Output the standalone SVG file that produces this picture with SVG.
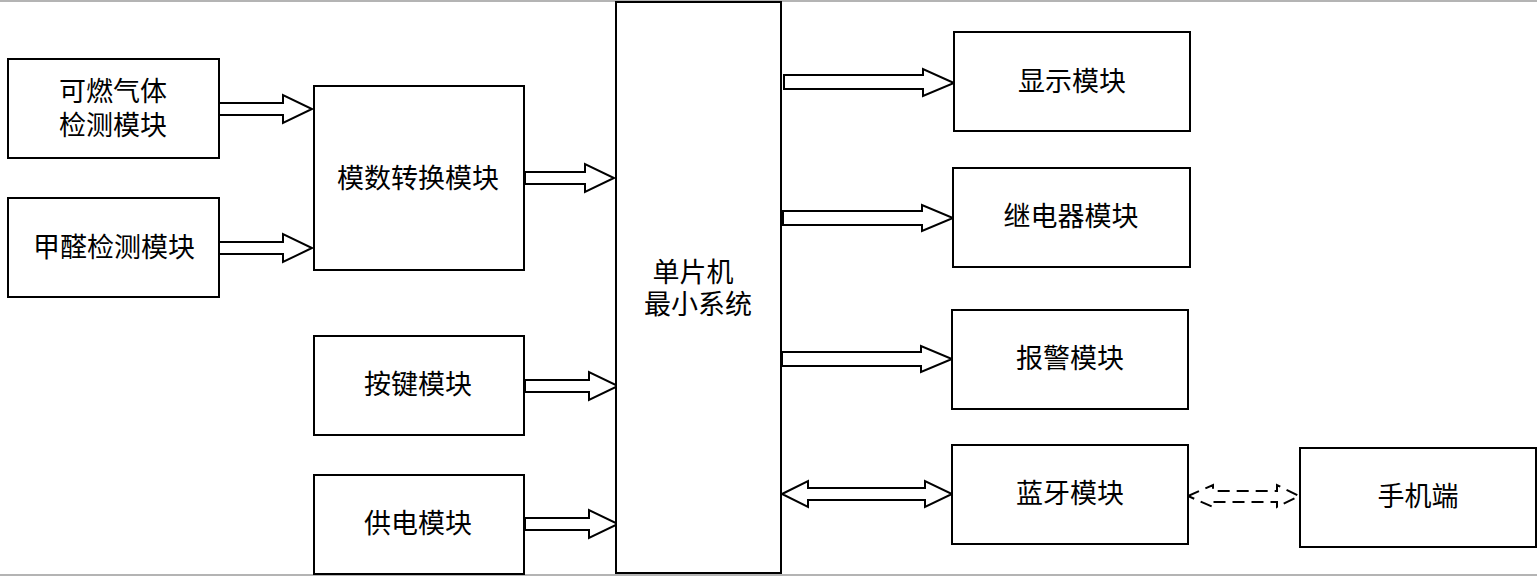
<svg xmlns="http://www.w3.org/2000/svg" width="1537" height="576" viewBox="0 0 1537 576">
<style>
.box{fill:#fff;stroke:#000;stroke-width:2}
.t{font-family:"Noto Sans CJK SC","Liberation Sans",sans-serif;font-size:27px;fill:#000;text-anchor:middle;dominant-baseline:central}
.ar{fill:#fff;stroke:#000;stroke-width:2;stroke-linejoin:miter}
.da{fill:none;stroke:#000;stroke-width:2;stroke-dasharray:12,7}
</style>
<rect x="0" y="0" width="1537" height="576" fill="#fff"/>
<line x1="0" y1="1" x2="1537" y2="1" stroke="#b4b4b4" stroke-width="2"/>
<line x1="0" y1="575" x2="1537" y2="575" stroke="#b4b4b4" stroke-width="2"/>
<g id="connectors">
<polygon class="ar" points="219,103 283,103 283,95 312,109 283,123 283,115 219,115"/>
<polygon class="ar" points="219,242 283,242 283,234 312,248 283,262 283,254 219,254"/>
<polygon class="ar" points="525,172 585,172 585,164 614,178 585,192 585,184 525,184"/>
<polygon class="ar" points="525,380 589,380 589,372 618,386 589,400 589,392 525,392"/>
<polygon class="ar" points="525,518 589,518 589,510 618,524 589,538 589,530 525,530"/>
<polygon class="ar" points="784,75 923,75 923,69 954,83 923,96 923,89 784,89"/>
<polygon class="ar" points="783,211 922,211 922,205 953,218 922,231 922,225 783,225"/>
<polygon class="ar" points="782,352 921,352 921,346 952,359 921,372 921,366 782,366"/>
<polygon class="ar" points="782,494 808,481 808,488 925,488 925,481 952,494 925,507 925,500 808,500 808,507"/>
<polygon class="da" points="1188,496 1213,485 1213,491 1277,491 1277,485 1299,496 1277,507 1277,502 1213,502 1213,507"/>
</g>
<g id="n1"><rect class="box" x="8" y="59" width="211" height="99"/><text class="t" x="113" y="89">可燃气体</text><text class="t" x="113" y="123">检测模块</text></g>
<g id="n2"><rect class="box" x="8" y="198" width="211" height="99"/><text class="t" x="114" y="245">甲醛检测模块</text></g>
<g id="n3"><rect class="box" x="314" y="86" width="210" height="184"/><text class="t" x="418" y="176">模数转换模块</text></g>
<g id="n4"><rect class="box" x="314" y="336" width="210" height="99"/><text class="t" x="418" y="382">按键模块</text></g>
<g id="n5"><rect class="box" x="314" y="475" width="210" height="99"/><text class="t" x="418" y="521">供电模块</text></g>
<g id="mcu"><rect class="box" x="616" y="2" width="165" height="571"/><text class="t" x="693" y="270">单片机</text><text class="t" x="698" y="302">最小系统</text></g>
<g id="n6"><rect class="box" x="954" y="32" width="236" height="99"/><text class="t" x="1072" y="79">显示模块</text></g>
<g id="n7"><rect class="box" x="953" y="168" width="237" height="99"/><text class="t" x="1071" y="214">继电器模块</text></g>
<g id="n8"><rect class="box" x="952" y="310" width="236" height="99"/><text class="t" x="1070" y="356">报警模块</text></g>
<g id="n9"><rect class="box" x="952" y="445" width="236" height="99"/><text class="t" x="1070" y="491">蓝牙模块</text></g>
<g id="n10"><rect class="box" x="1300" y="448" width="236" height="99"/><text class="t" x="1418" y="494">手机端</text></g>
</svg>
